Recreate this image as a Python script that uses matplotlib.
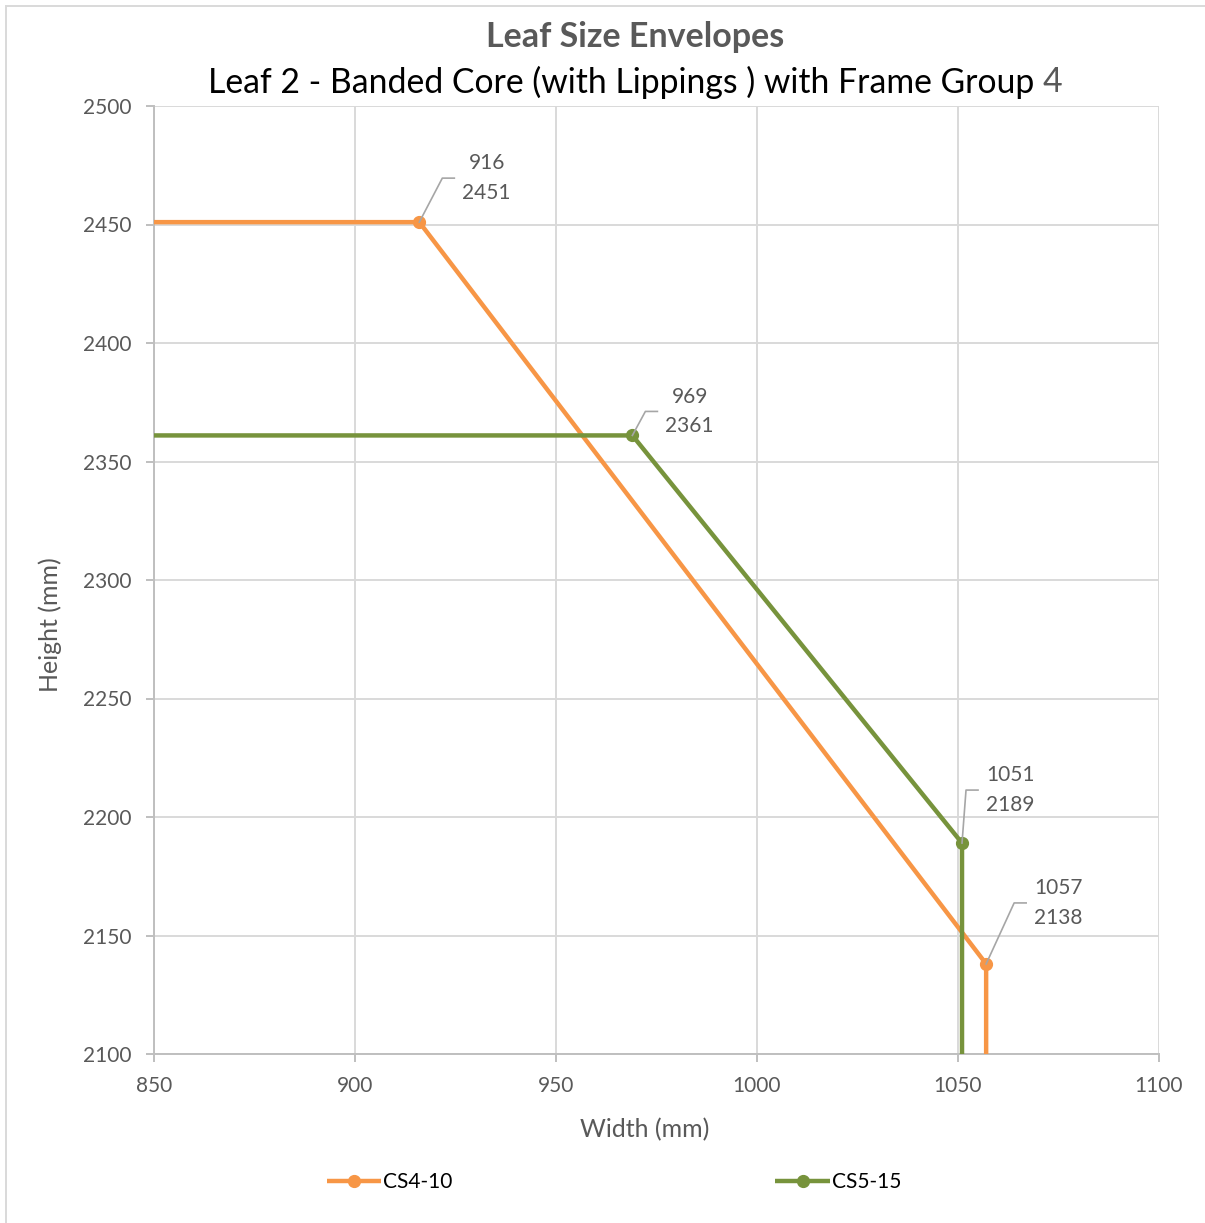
import matplotlib
matplotlib.use("Agg")
import matplotlib.pyplot as plt
from matplotlib.lines import Line2D
from matplotlib.patches import Rectangle
from matplotlib.transforms import IdentityTransform

plt.rcParams['font.family'] = ['Lato', 'DejaVu Sans']

# envelope series: width (mm) vs height (mm)
cs4_width = [850, 916, 1057, 1057]
cs4_height = [2451, 2451, 2138, 2100]
cs5_width = [850, 969, 1051, 1051]
cs5_height = [2361, 2361, 2189, 2100]

# corner points that carry a data label, with label position (px from point)
cs4_corners = [(916, 2451, 23, 44), (1057, 2138, 28, 61)]
cs5_corners = [(969, 2361, 13, 24), (1051, 2189, 4, 53)]

x_ticks = [850, 900, 950, 1000, 1050, 1100]
y_ticks = [2100, 2150, 2200, 2250, 2300, 2350, 2400, 2450, 2500]

ORANGE = '#F79646'
GREEN = '#77933C'
GRID = '#D9D9D9'
TXT = '#595959'

W, H = 1205, 1223
fig = plt.figure(figsize=(W / 100, H / 100), dpi=100)
ax = fig.add_axes([154 / W, 1 - 1054 / H, (1159 - 154) / W, (1054 - 106) / H])

ax.set_xlim(850, 1100)
ax.set_ylim(2100, 2500)
ax.set_xticks(x_ticks)
ax.set_yticks(y_ticks)
ax.grid(True, color=GRID, lw=1.4)
ax.set_axisbelow(True)
for side in ['top', 'right']:
    ax.spines[side].set_visible(False)
for side in ['left', 'bottom']:
    ax.spines[side].set_color('#BFBFBF')
    ax.spines[side].set_linewidth(1.4)
ax.tick_params(axis='both', colors='#BFBFBF', width=1.4, length=6,
               labelcolor=TXT, labelsize=15)
ax.tick_params(axis='x', pad=10)
ax.tick_params(axis='y', pad=10)

ax.plot(cs4_width, cs4_height, color=ORANGE, lw=3.2, solid_capstyle='butt',
        label='CS4-10', zorder=3)
ax.plot(cs5_width, cs5_height, color=GREEN, lw=3.2, solid_capstyle='butt',
        label='CS5-15', zorder=3)
ax.plot([c[0] for c in cs4_corners], [c[1] for c in cs4_corners], 'o',
        color=ORANGE, ms=8.5, zorder=4)
ax.plot([c[0] for c in cs5_corners], [c[1] for c in cs5_corners], 'o',
        color=GREEN, ms=8.5, zorder=4)

# data labels with bent leader lines
for x, y, dx, dy in cs4_corners + cs5_corners:
    px, py = ax.transData.transform((x, y))
    fig.add_artist(Line2D([px, px + dx, px + dx + 12], [py, py + dy, py + dy],
                          color='#A6A6A6', lw=1.2, transform=IdentityTransform()))
    ax.annotate(f'{x}\n{y}', (x, y), xytext=(dx + 20, dy), textcoords='offset pixels',
                ha='left', va='center', multialignment='center', fontsize=15,
                color=TXT, linespacing=1.6)

ax.set_xlabel('Width (mm)', fontsize=18, color=TXT, va='center')
ax.set_ylabel('Height (mm)', fontsize=18, color=TXT, va='center')
ax.xaxis.set_label_coords((645 - 154) / 1005, (1054 - 1130) / 948)
ax.yaxis.set_label_coords((50 - 154) / 1005, (1054 - 625) / 948)

# two-line title, last character in grey
fig.text(635 / W, 1 - 37 / H, 'Leaf Size Envelopes', ha='center', va='center',
         fontsize=24.5, fontweight='bold', color=TXT)
sub = fig.text(635 / W, 1 - 82 / H, 'Leaf 2 - Banded Core (with Lippings ) with Frame Group ',
               ha='center', va='center', fontsize=24.3, color='black')
fig.canvas.draw()
bb = sub.get_window_extent()
four = fig.text(0, 1 - 82 / H, '4', ha='left', va='center', fontsize=24.3, color=TXT)
fw = four.get_window_extent().width
shift = fw / 2 / W
sub.set_x(635 / W - shift)
four.set_x((bb.x1 / W) - shift)

fig.legend(loc='center', bbox_to_anchor=(614 / W, 1 - 1182 / H), ncol=2,
           frameon=False, fontsize=15, handlelength=2.6, columnspacing=15.5,
           handletextpad=0.1, labelcolor='black')
for h in fig.legends[0].legend_handles:
    h.set_marker('o')
    h.set_markersize(8.5)

fig.add_artist(Rectangle((6 / W, -0.01), 1.02, 1 - 6 / H + 0.01, transform=fig.transFigure,
                         fill=False, edgecolor=GRID, lw=1.4, clip_on=False))

fig.savefig('out.png', dpi=100, facecolor='white')
